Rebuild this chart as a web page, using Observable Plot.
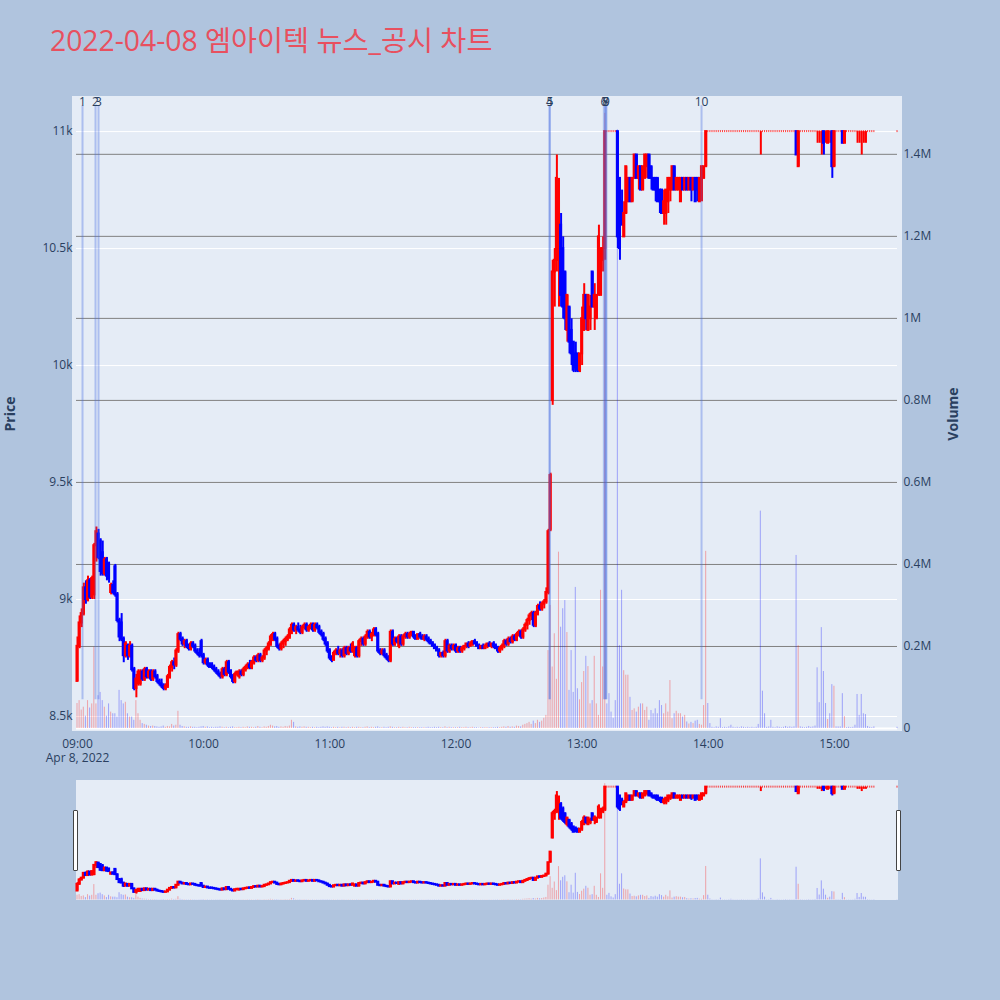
<!DOCTYPE html>
<html><head><meta charset="utf-8">
<script src="https://cdn.jsdelivr.net/npm/d3@7"></script>
<script src="https://cdn.jsdelivr.net/npm/@observablehq/plot@0.6"></script>
<style>
body{margin:0;background:#b0c4de;}
#wrap{position:relative;width:1000px;height:1000px;background:#b0c4de;overflow:hidden;font-family:"Open Sans",sans-serif;}
#wrap svg{position:absolute;overflow:visible;}
.bg{position:absolute;background:#e5ecf6;}
.grab{position:absolute;width:3px;height:59px;background:#fff;border:1px solid #444;border-radius:1px;}
#title{position:absolute;left:50px;top:24px;font-size:28.3px;line-height:32px;color:#e8505f;white-space:nowrap;font-family:"Open Sans","Noto Sans CJK KR",sans-serif;}
</style></head><body><div id="wrap"><div id="title">2022-04-08 엠아이텍 뉴스_공시 차트</div></div>
<script>
// ---------- data (1-minute candles, 09:00 .. 15:19 and the 15:30 close) ----------
const openPrice = [
8650,8800,8900,8940,9050,9000,9080,9010,9020,9230,9280,9250,9200,9110,9170,9150,9030,9060,9140,9020,8910,8900,8830,8760,8800,8760,8800,8700,8620,8640,
8640,8690,8660,8700,8670,8690,8660,8690,8670,8650,8640,8630,8620,8630,8670,8710,8730,8720,8780,8850,8830,8810,8820,8800,8790,8810,8800,8780,8770,8820,
8760,8730,8740,8720,8720,8710,8700,8690,8680,8670,8700,8680,8730,8690,8670,8650,8680,8670,8690,8680,8700,8710,8720,8710,8730,8750,8740,8760,8740,8750,
8780,8790,8810,8840,8850,8830,8800,8790,8810,8820,8830,8840,8870,8890,8870,8880,8870,8860,8880,8890,8870,8880,8890,8870,8890,8880,8860,8850,8830,8810,
8780,8750,8740,8770,8780,8770,8780,8760,8790,8770,8790,8780,8760,8790,8760,8820,8830,8810,8840,8860,8840,8850,8870,8850,8780,8770,8780,8760,8750,8740,
8860,8810,8830,8800,8840,8810,8840,8850,8840,8850,8860,8840,8830,8850,8840,8830,8840,8830,8820,8810,8800,8790,8780,8760,8770,8760,8820,8780,8800,8790,
8800,8780,8790,8780,8790,8800,8810,8800,8810,8820,8810,8800,8790,8800,8790,8800,8810,8800,8810,8800,8790,8780,8790,8800,8820,8810,8830,8820,8840,8830,
8850,8860,8840,8870,8890,8910,8930,8940,8890,8940,8970,8960,8980,8990,9030,9300,9850,10400,10450,10450,10600,10500,10400,10150,10250,10150,10100,10050,10050,9980,
10050,10150,10300,10150,10200,10400,10250,10200,10300,10300,10450,10500,11000,11000,11000,11000,11000,11000,10800,10700,10550,10650,10700,10800,10700,10800,10900,10800,10850,10750,
10800,10850,10900,10850,10800,10800,10800,10750,10750,10650,10650,10700,10750,10750,10850,10750,10750,10700,10800,10750,10800,10750,10800,10750,10800,10800,10700,10800,10800,10850,
11000,11000,11000,11000,11000,11000,11000,11000,11000,11000,11000,11000,11000,11000,11000,11000,11000,11000,11000,11000,11000,11000,11000,11000,11000,11000,11000,11000,11000,11000,
11000,11000,11000,11000,11000,11000,11000,11000,11000,11000,11000,11000,11000,10850,11000,11000,11000,11000,11000,11000,11000,11000,11000,11000,11000,11000,11000,10950,11000,11000,
10850,11000,11000,11000,11000,10950,11000,11000,11000,11000,11000,11000,11000,11000,11000,11000,11000,11000,11000,11000,
11000];
const highPrice = [
8840,8930,8960,9070,9080,9100,9090,9100,9240,9310,9300,9260,9250,9180,9180,9160,9070,9080,9150,9030,8920,8940,8840,8820,8810,8820,8810,8710,8680,8700,
8700,8700,8710,8710,8700,8700,8700,8700,8680,8660,8660,8640,8640,8680,8720,8740,8750,8790,8860,8860,8840,8830,8830,8810,8820,8820,8810,8790,8790,8830,
8770,8750,8750,8730,8730,8720,8710,8700,8690,8710,8710,8740,8740,8700,8680,8690,8690,8700,8700,8710,8720,8730,8740,8740,8760,8760,8770,8770,8760,8790,
8800,8820,8850,8860,8860,8840,8810,8820,8830,8840,8850,8880,8900,8900,8890,8900,8890,8890,8900,8900,8890,8900,8900,8900,8900,8890,8870,8860,8840,8820,
8790,8760,8780,8790,8800,8790,8790,8800,8800,8800,8810,8820,8800,8800,8830,8840,8840,8850,8870,8870,8860,8880,8880,8860,8790,8790,8790,8770,8760,8870,
8870,8840,8840,8850,8850,8850,8860,8860,8860,8860,8860,8850,8850,8860,8850,8850,8850,8840,8830,8820,8810,8800,8790,8770,8780,8830,8830,8810,8810,8810,
8810,8800,8800,8800,8800,8810,8820,8820,8820,8830,8820,8810,8800,8810,8810,8810,8820,8810,8820,8810,8800,8800,8810,8830,8830,8840,8840,8850,8850,8860,
8870,8870,8880,8900,8920,8940,8950,8950,8950,8980,8990,8990,9000,9050,9300,9540,10450,10500,10900,10800,10650,10550,10400,10300,10250,10200,10100,10100,10050,10050,
10250,10350,10300,10300,10300,10400,10350,10300,10600,10500,10550,11000,11000,11000,11000,11000,11000,11000,10800,10750,10700,10850,10800,10800,10800,10900,10900,10850,10850,10850,
10900,10900,10900,10850,10800,10800,10800,10750,10750,10750,10750,10800,10800,10850,10850,10800,10800,10800,10800,10800,10800,10800,10800,10800,10800,10800,10800,10850,10850,11000,
11000,11000,11000,11000,11000,11000,11000,11000,11000,11000,11000,11000,11000,11000,11000,11000,11000,11000,11000,11000,11000,11000,11000,11000,11000,11000,11000,11000,11000,11000,
11000,11000,11000,11000,11000,11000,11000,11000,11000,11000,11000,11000,11000,11000,11000,11000,11000,11000,11000,11000,11000,11000,11000,11000,11000,11000,11000,11000,11000,11000,
11000,11000,11000,11000,11000,11000,11000,11000,11000,11000,11000,11000,11000,11000,11000,11000,11000,11000,11000,11000,
11000];
const lowPrice = [
8650,8790,8880,8930,8980,8990,9000,9000,9000,9160,9170,9100,9100,9100,9080,9070,9020,9020,9010,8900,8820,8820,8730,8750,8740,8750,8690,8610,8580,8630,
8630,8650,8650,8660,8660,8650,8650,8660,8640,8630,8620,8610,8610,8620,8660,8690,8700,8710,8770,8820,8800,8790,8790,8780,8780,8790,8770,8760,8750,8750,
8720,8720,8710,8710,8700,8690,8680,8670,8660,8660,8670,8670,8680,8660,8640,8640,8670,8660,8670,8670,8690,8700,8700,8700,8720,8730,8730,8730,8730,8740,
8760,8780,8800,8820,8820,8790,8780,8780,8790,8800,8820,8830,8850,8860,8850,8860,8850,8850,8870,8860,8860,8870,8860,8860,8870,8850,8840,8820,8800,8770,
8740,8730,8740,8760,8760,8750,8750,8750,8760,8760,8770,8770,8750,8750,8750,8800,8800,8800,8830,8830,8820,8840,8840,8770,8760,8760,8750,8740,8730,8730,
8800,8800,8810,8790,8800,8800,8830,8830,8830,8840,8830,8830,8830,8830,8830,8820,8820,8810,8810,8800,8790,8780,8750,8750,8750,8750,8770,8770,8780,8780,
8770,8770,8770,8770,8780,8790,8790,8800,8800,8810,8800,8790,8790,8790,8790,8790,8800,8790,8790,8790,8770,8770,8780,8790,8800,8800,8810,8810,8820,8820,
8840,8830,8830,8860,8870,8890,8910,8880,8880,8930,8950,8950,8960,8980,9020,9290,9830,10250,10400,10250,10250,10200,10150,10100,10050,10000,9970,9970,9970,9970,
10000,10150,10150,10150,10150,10250,10150,10200,10300,10300,10400,10450,11000,11000,11000,11000,11000,10500,10450,10600,10550,10650,10700,10700,10700,10800,10800,10750,10750,10750,
10800,10800,10800,10750,10750,10700,10700,10650,10650,10600,10600,10650,10700,10750,10750,10750,10750,10700,10750,10750,10750,10750,10700,10750,10700,10700,10700,10700,10800,10850,
11000,11000,11000,11000,11000,11000,11000,11000,11000,11000,11000,11000,11000,11000,11000,11000,11000,11000,11000,11000,11000,11000,11000,11000,11000,10900,11000,11000,11000,11000,
11000,11000,11000,11000,11000,11000,11000,11000,11000,11000,11000,11000,10900,10850,11000,11000,11000,11000,11000,11000,11000,11000,10950,10950,10900,10900,10950,10950,10950,10800,
10850,11000,11000,11000,10950,10950,11000,11000,11000,11000,11000,10950,10950,10900,10950,10950,11000,11000,11000,11000,
11000];
const closePrice = [
8800,8900,8940,9050,9000,9080,9010,9090,9230,9290,9180,9120,9110,9170,9100,9090,9060,9030,9020,8910,8840,8830,8760,8810,8760,8800,8700,8620,8660,8690,
8690,8660,8700,8670,8690,8660,8690,8670,8650,8640,8630,8620,8630,8670,8710,8730,8720,8780,8850,8830,8810,8820,8800,8790,8810,8800,8780,8770,8760,8760,
8730,8740,8720,8710,8710,8700,8690,8680,8670,8700,8680,8730,8690,8670,8650,8680,8690,8690,8680,8700,8710,8720,8710,8730,8750,8740,8760,8740,8750,8780,
8790,8810,8840,8850,8830,8800,8790,8810,8820,8830,8840,8870,8890,8870,8880,8870,8860,8880,8890,8870,8880,8890,8870,8890,8880,8860,8850,8830,8810,8780,
8750,8740,8770,8780,8770,8780,8760,8790,8770,8790,8780,8810,8790,8760,8820,8830,8810,8840,8860,8840,8850,8870,8850,8780,8770,8780,8760,8750,8740,8860,
8810,8830,8820,8840,8810,8840,8850,8840,8850,8860,8840,8830,8850,8840,8830,8840,8830,8820,8810,8800,8790,8780,8760,8770,8760,8820,8780,8800,8790,8800,
8780,8790,8780,8790,8800,8810,8800,8810,8820,8810,8800,8790,8800,8790,8800,8810,8800,8810,8800,8790,8780,8790,8800,8820,8810,8830,8820,8840,8830,8850,
8860,8840,8870,8890,8910,8930,8940,8890,8940,8970,8960,8980,8990,9030,9290,9530,10400,10450,10800,10700,10300,10250,10200,10300,10100,10050,9980,9990,9980,10050,
10200,10300,10200,10300,10250,10250,10300,10300,10550,10500,10500,11000,11000,11000,11000,11000,11000,10550,10500,10600,10650,10850,10800,10700,10800,10900,10800,10850,10750,10850,
10900,10900,10800,10800,10750,10750,10700,10700,10650,10700,10750,10800,10800,10850,10750,10800,10800,10800,10750,10800,10750,10800,10750,10800,10700,10750,10800,10850,10850,11000,
11000,11000,11000,11000,11000,11000,11000,11000,11000,11000,11000,11000,11000,11000,11000,11000,11000,11000,11000,11000,11000,11000,11000,11000,11000,11000,11000,11000,11000,11000,
11000,11000,11000,11000,11000,11000,11000,11000,11000,11000,11000,11000,10900,11000,11000,11000,11000,11000,11000,11000,11000,11000,11000,11000,11000,10950,11000,11000,11000,10850,
11000,11000,11000,11000,10950,11000,11000,11000,11000,11000,11000,11000,11000,11000,11000,11000,11000,11000,11000,11000,
11000];
const volumeThousands = [
61,68,45,52,30,68,50,60,198,60,80,88,68,52,30,60,40,36,36,28,93,68,60,64,36,28,28,20,68,36,
20,12,10,8,6,5,6,5,4,3,4,6,3,5,4,10,6,8,42,8,5,4,3,3,4,3,3,2,3,4,
5,3,4,2,3,2,3,3,4,3,2,3,2,3,4,2,2,3,2,3,2,4,3,3,2,3,5,3,2,4,
3,5,8,6,4,5,3,4,3,5,4,6,20,15,4,3,4,3,4,3,3,2,3,2,3,2,3,4,3,4,
3,2,3,2,3,2,3,3,2,3,2,3,2,3,3,2,2,3,4,2,3,2,3,4,2,2,3,2,3,4,
3,2,2,3,2,3,2,2,3,2,2,2,2,2,2,2,2,3,2,2,3,2,3,2,2,4,2,3,2,2,
2,2,3,2,2,3,2,2,3,2,2,1,2,2,2,2,2,2,2,2,3,2,3,4,3,5,3,4,3,6,
5,4,8,10,12,15,10,18,12,20,15,18,25,32,190,300,150,231,120,430,247,292,312,234,93,190,88,344,97,70,
112,139,176,151,60,68,176,60,32,337,150,1500,60,85,40,25,68,1460,202,337,141,130,130,76,44,48,40,52,60,60,
44,52,20,44,36,48,36,68,56,36,60,40,117,24,36,42,36,36,28,32,16,11,15,12,18,20,10,8,56,432,
61,12,3,2,4,3,24,2,3,2,4,8,3,2,3,2,4,3,2,3,2,3,2,3,10,530,91,36,3,4,
20,3,2,4,3,2,3,5,3,4,3,4,422,202,4,3,2,3,5,3,4,6,148,63,246,139,61,22,36,107,
103,4,4,4,85,29,2,3,2,3,8,83,32,83,36,34,5,3,2,4,
3];
const timeTickLabels = ["09:00","10:00","11:00","12:00","13:00","14:00","15:00"];
const dayLabel = "Apr 8, 2022";
const priceTicks = [8500, 9000, 9500, 10000, 10500, 11000];
const priceTickLabels = ["8.5k","9k","9.5k","10k","10.5k","11k"];
const volumeTicks = [0, 200000, 400000, 600000, 800000, 1000000, 1200000, 1400000];
const volumeTickLabels = ["0","0.2M","0.4M","0.6M","0.8M","1M","1.2M","1.4M"];
const newsLabels = ["1","2","3","4","5","6","7","8","9","10"];
const newsTimes = ["09:02:23","09:08:34","09:10:00","12:44:28","12:44:40","13:10:20","13:11:00","13:11:15","13:11:35","13:56:48"];
const priceRange = [8436, 11150];
const volumeRange = [-7300, 1541000];
const xRange = ["08:59:31.5", "15:30:00"];

// ---------- build ----------
const at = hms => new Date(`2022-04-08T${hms}Z`);
const UP = "red", DOWN = "blue";
const rows = [];
let increasing = true, cPrev = null;
for (let i = 0; i < openPrice.length; i++) {
  const t = i < 380 ? new Date(Date.UTC(2022, 3, 8, 9, i)) : at("15:30:00");
  const o = openPrice[i], h = highPrice[i], l = lowPrice[i], c = closePrice[i];
  if (c === o) { if (cPrev !== null && c !== cPrev) increasing = c > cPrev; }
  else increasing = c > o;
  cPrev = c;
  rows.push({t, t0: new Date(+t - 15000), t1: new Date(+t + 15000), o, h, l, c,
    v: volumeThousands[i] * 1000, cc: increasing ? UP : DOWN, vc: c > o ? UP : DOWN});
}
const news = newsTimes.map((s, i) => ({t: at(s), label: newsLabels[i]}));
const lineLow = d3.min(lowPrice) * 0.999, lineHigh = d3.max(highPrice) * 1.01;
const xDomain = xRange.map(at);
const flat = rows.filter(d => d.o === d.c), body = rows.filter(d => d.o !== d.c);

const wrap = document.getElementById("wrap");
function addDiv(cls, l, t, w, h) { const d = document.createElement("div"); d.className = cls;
  Object.assign(d.style, {left: l + "px", top: t + "px", width: w + "px", height: h + "px"}); wrap.appendChild(d); return d; }
function add(svg, l, t) { svg.style.left = l + "px"; svg.style.top = t + "px"; wrap.appendChild(svg); }
const base = {width: 1000, height: 760, marginLeft: 76, marginRight: 103, marginTop: 96, marginBottom: 29,
  style: {background: "transparent", fontFamily: "'Open Sans', sans-serif", fontSize: "12px", color: "#2a3f5f"}};
const lookup = (ticks, labels) => d => labels[ticks.indexOf(d)];

function candleMarks() {
  return [
    Plot.ruleX(rows, {x: "t", y1: "l", y2: "h", stroke: "cc", strokeWidth: 2}),
    Plot.rect(body, {x1: "t0", x2: "t1", y1: "o", y2: "c", fill: "cc", stroke: "cc", strokeWidth: 2}),
    Plot.rect(flat, {x1: "t0", x2: "t1", y1: "c", y2: "c", insetTop: -1, insetBottom: -1, fill: "cc", fillOpacity: 0.75})
  ];
}
function volumeMarks() {
  return [Plot.rect(rows, {x1: "t0", x2: "t1", y1: 0, y2: "v", fill: "vc", fillOpacity: 0.3})];
}

addDiv("bg", 72, 96, 830, 635);
const xs = {type: "utc", domain: xDomain};
// layer 1: price grid + axes
add(Plot.plot({...base, x: xs, y: {domain: priceRange},
  marks: [
    Plot.gridY(priceTicks, {stroke: "#fff", strokeOpacity: 1, strokeWidth: 1}),
    Plot.axisY(priceTicks, {anchor: "left", tickSize: 0, tickPadding: 4, tickFormat: lookup(priceTicks, priceTickLabels), label: null}),
    Plot.axisX(timeTickLabels.map(s => at(s + ":00")), {anchor: "bottom", tickSize: 0, tickPadding: 8, tickFormat: d3.utcFormat("%H:%M"), label: null}),
    Plot.text([dayLabel], {x: () => at("09:00:00"), text: d => d, frameAnchor: "bottom", dy: 30, fill: "#2a3f5f"}),
    Plot.text(["Price"], {text: d => d, frameAnchor: "left", textAnchor: "middle", dx: -66, rotate: -90, fontSize: 14, fontWeight: "bold", fill: "#2a3f5f"}),
    Plot.text(["Volume"], {text: d => d, frameAnchor: "right", textAnchor: "middle", dx: 56, rotate: -90, fontSize: 14, fontWeight: "bold", fill: "#2a3f5f"})
  ]}), 0, 0);
// layer 2: volume
add(Plot.plot({...base, x: {...xs, axis: null}, y: {domain: volumeRange}, color: {type: "identity"},
  marks: [
    Plot.gridY(volumeTicks.filter(v => v > 0), {stroke: "#808080", strokeOpacity: 1, strokeWidth: 1}),
    Plot.ruleY([0], {stroke: "#fff", strokeWidth: 2}),
    Plot.axisY(volumeTicks, {anchor: "right", tickSize: 0, tickPadding: 6, tickFormat: lookup(volumeTicks, volumeTickLabels), label: null}),
    ...volumeMarks()
  ]}), 0, 0);
// layer 3: candles + news
add(Plot.plot({...base, x: {...xs, axis: null}, y: {domain: priceRange, axis: null}, color: {type: "identity"},
  marks: [
    ...candleMarks(),
    Plot.ruleX(news, {x: "t", y1: lineLow, y2: lineHigh, stroke: "royalblue", strokeOpacity: 0.35, strokeWidth: 2}),
    Plot.text(news, {x: "t", text: "label", frameAnchor: "top", dy: 1, fontSize: 12, fill: "#2a3f5f"})
  ]}), 0, 0);

// range slider
addDiv("bg", 76, 780, 822, 120);
const sl = {width: 821, height: 120, margin: 0, style: {background: "transparent"}};
add(Plot.plot({...sl, x: {...xs, axis: null}, y: {domain: volumeRange, axis: null}, color: {type: "identity"}, marks: volumeMarks()}), 76, 780);
add(Plot.plot({...sl, x: {...xs, axis: null}, y: {domain: priceRange, axis: null}, color: {type: "identity"}, marks: candleMarks()}), 76, 780);
addDiv("grab", 73, 810, 3, 59);
addDiv("grab", 896, 810, 3, 59);
</script></body></html>
